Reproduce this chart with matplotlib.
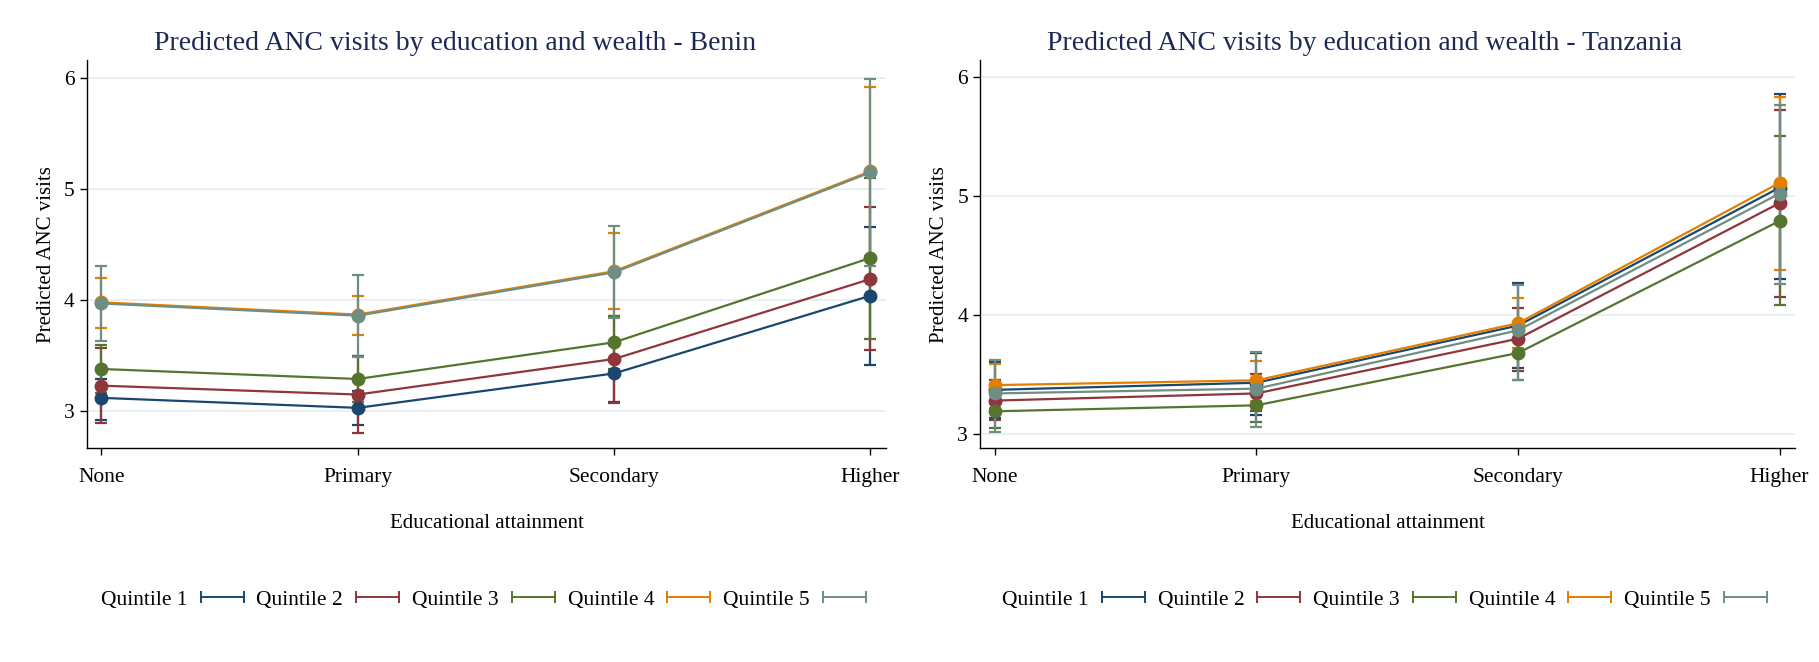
import numpy as np
import matplotlib
matplotlib.use("Agg")
import matplotlib.pyplot as plt
from matplotlib.lines import Line2D

plt.rcParams['font.family'] = ['Liberation Serif', 'DejaVu Serif']

levels = ["None", "Primary", "Secondary", "Higher"]
quintiles = ["Quintile 1", "Quintile 2", "Quintile 3", "Quintile 4", "Quintile 5"]
colors = ["#1a476f", "#90353b", "#55752f", "#e37e00", "#6e8e84"]

# Benin: predicted visits and 95% CI per quintile
benin_mean = [[3.12, 3.03, 3.34, 4.04],
              [3.23, 3.15, 3.47, 4.19],
              [3.38, 3.29, 3.62, 4.38],
              [3.98, 3.87, 4.26, 5.16],
              [3.97, 3.86, 4.25, 5.15]]
benin_lo = [[2.92, 2.88, 3.08, 3.42],
            [2.89, 2.80, 3.07, 3.55],
            [3.16, 3.08, 3.38, 3.65],
            [3.75, 3.69, 3.92, 4.40],
            [3.63, 3.49, 3.84, 4.31]]
benin_hi = [[3.29, 3.18, 3.60, 4.66],
            [3.57, 3.50, 3.86, 4.84],
            [3.60, 3.50, 3.86, 5.10],
            [4.20, 4.04, 4.60, 5.92],
            [4.31, 4.23, 4.67, 5.99]]

# Tanzania
tz_mean = [[3.37, 3.43, 3.91, 5.07],
           [3.28, 3.34, 3.80, 4.94],
           [3.19, 3.24, 3.68, 4.79],
           [3.41, 3.45, 3.93, 5.11],
           [3.34, 3.38, 3.87, 5.02]]
tz_lo = [[3.13, 3.16, 3.55, 4.30],
         [3.12, 3.19, 3.53, 4.15],
         [3.05, 3.10, 3.45, 4.08],
         [3.22, 3.28, 3.72, 4.38],
         [3.02, 3.06, 3.45, 4.26]]
tz_hi = [[3.60, 3.68, 4.27, 5.86],
         [3.45, 3.50, 4.06, 5.72],
         [3.35, 3.40, 3.92, 5.50],
         [3.59, 3.61, 4.14, 5.83],
         [3.62, 3.69, 4.25, 5.76]]

title_col = "#1c2955"

fig = plt.figure(figsize=(18.19, 6.62), dpi=100)
ax1 = fig.add_axes([0.048, 0.323, 0.439, 0.586])
ax2 = fig.add_axes([0.539, 0.323, 0.448, 0.586])


def panel(ax, mean, lo, hi, country, ylim, title_x):
    x = np.arange(len(levels))
    # CIs first, then the connected lines
    for i in range(len(quintiles)):
        m = np.array(mean[i])
        err = [m - np.array(lo[i]), np.array(hi[i]) - m]
        ax.errorbar(x, m, yerr=err, fmt='none', ecolor=colors[i],
                    elinewidth=1.6, capsize=4.5, capthick=1.6, zorder=2)
    for i in range(len(quintiles)):
        ax.plot(x, mean[i], color=colors[i], lw=1.6, marker='o', ms=9,
                zorder=3)
    ax.set_xlim(-0.055, 3.06)
    ax.set_ylim(*ylim)
    ax.set_xticks(x)
    ax.set_xticklabels(levels, fontsize=15.5)
    ax.set_yticks([3, 4, 5, 6])
    ax.tick_params(axis='y', labelsize=15.5, length=5, width=1, pad=4)
    ax.tick_params(axis='x', length=5, width=1, pad=9)
    ax.yaxis.grid(True, color="#e6eff1", lw=1.3)
    ax.set_axisbelow(True)
    for s in ['top', 'right']:
        ax.spines[s].set_visible(False)
    ax.spines['left'].set_linewidth(1)
    ax.spines['bottom'].set_linewidth(1)
    ax.set_ylabel("Predicted ANC visits", fontsize=15, labelpad=6)
    ax.set_xlabel("Educational attainment", fontsize=15, labelpad=20)
    # title centred over the whole half of the graph, as in Stata
    fig.text(title_x, 0.934,
             "Predicted ANC visits by education and wealth - " + country,
             fontsize=20, color=title_col, ha='center', va='center')
    handles = [Line2D([0], [0], color=c, lw=1.4, marker='|', ms=9, mew=1.4)
               for c in colors]
    ax.legend(handles, quintiles, loc='upper center',
              bbox_to_anchor=(0.5, -0.315), ncol=5, frameon=False,
              markerfirst=False, numpoints=2, fontsize=15.5, handlelength=2.6,
              columnspacing=0.3, handletextpad=0.3)


panel(ax1, benin_mean, benin_lo, benin_hi, "Benin", (2.667, 6.16), 0.25)
panel(ax2, tz_mean, tz_lo, tz_hi, "Tanzania", (2.88, 6.14), 0.75)

fig.savefig("out.png", dpi=100, facecolor="white")
